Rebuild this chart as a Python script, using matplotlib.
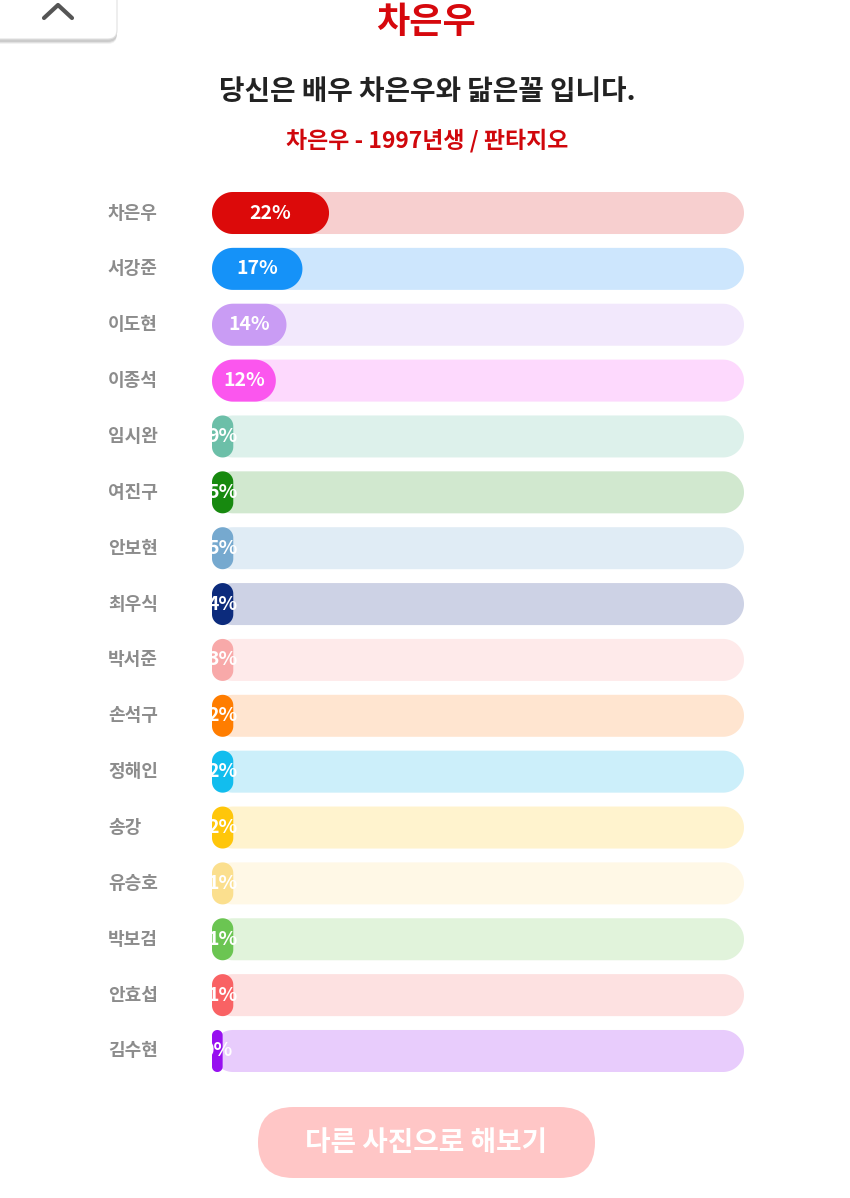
import numpy as np
import matplotlib
matplotlib.use("Agg")
import matplotlib.pyplot as plt
from matplotlib.patches import Polygon, FancyBboxPatch
from matplotlib import transforms

plt.rcParams['font.family'] = ['Noto Sans CJK KR', 'DejaVu Sans']

# data
names = ['차은우', '서강준', '이도현', '이종석', '임시완', '여진구', '안보현', '최우식',
         '박서준', '손석구', '정해인', '송강', '유승호', '박보검', '안효섭', '김수현']
percent = [22, 17, 14, 12, 9, 5, 5, 4, 3, 2, 2, 2, 1, 1, 1, 0]
shown_fill = [22, 17, 14, 12, 4, 4, 4, 4, 4, 4, 4, 4, 4, 4, 4, 2]  # bar length as drawn
fill_colors = ['#DC0A0A', '#1592F8', '#C99CF4', '#FB56EE', '#6CBFA8', '#17890F',
               '#76A9CF', '#0C2B7C', '#F8A9A9', '#FF7D00', '#12BDEE', '#FFC60A',
               '#FBDF8E', '#6BC552', '#F96264', '#9710F0']
track_colors = ['#F7CFCF', '#CDE6FD', '#F2E8FC', '#FDD9FD', '#DDF1EB', '#D1E8CF',
                '#E0ECF5', '#CDD2E5', '#FEEAEA', '#FFE5D0', '#CCEFFA', '#FFF3CE',
                '#FFF8E6', '#E1F3DB', '#FDE1E1', '#E8CCFC']

title = '차은우'
subtitle = '당신은 배우 차은우와 닮은꼴 입니다.'
info = '차은우 - 1997년생 / 판타지오'
button_text = '다른 사진으로 해보기'

W, H = 850, 1198
fig = plt.figure(figsize=(W / 100, H / 100), dpi=100)
fig.patch.set_facecolor('white')

# background layer in pixel coordinates for the page decoration
bg = fig.add_axes([0, 0, 1, 1])
bg.set_xlim(0, W)
bg.set_ylim(H, 0)
bg.axis('off')

# top-left "back to top" tab with a soft shadow
for off, a in [(4, 0.05), (3, 0.07), (2, 0.09)]:
    bg.add_patch(FancyBboxPatch((-20, -20 + off), 137, 60, boxstyle='round,pad=0,rounding_size=9',
                                fc='black', ec='none', alpha=a))
bg.add_patch(FancyBboxPatch((-20, -20), 137, 59, boxstyle='round,pad=0,rounding_size=9',
                            fc='white', ec='#e2e2e2', lw=0.8))
bg.plot([44, 58, 72], [18, 5, 18], color='#555555', lw=3, solid_capstyle='round')

bg.text(W / 2 + 1, 22, title, ha='center', va='center', fontsize=26, fontweight='bold', color='#D6080D')
bg.text(W / 2 + 2, 92, subtitle, ha='center', va='center', fontsize=20, fontweight='bold', color='#222222')
bg.text(W / 2 + 2, 141, info, ha='center', va='center', fontsize=16.5, fontweight='bold', color='#D0070C')

# bottom button
bg.add_patch(FancyBboxPatch((258, 1107), 337, 71, boxstyle='round,pad=0,rounding_size=35.5',
                            fc='#FFC6C6', ec='none'))
bg.text(426, 1143, button_text, ha='center', va='center', fontsize=20, fontweight='bold', color='white')

# bar area
x0_px, x1_px = 212, 744
row_top, row_bot = 185.07, 1078.93
ax = fig.add_axes([x0_px / W, 1 - row_bot / H, (x1_px - x0_px) / W, (row_bot - row_top) / H])
ax.set_xlim(0, 100)
ax.set_ylim(len(names) - 0.5, -0.5)
ax.axis('off')

sx = (x1_px - x0_px) / 100.0            # pixels per x unit
sy = (row_bot - row_top) / len(names)   # pixels per row
bar_h = 42


def pill(x0, x1, yc, color):
    w_px = (x1 - x0) * sx
    r = min(w_px, bar_h) / 2
    rx, ry, hy = r / sx, r / sy, bar_h / 2 / sy
    verts = []
    for cx, cy, a, b in [(x1 - rx, yc - hy + ry, -90, 0), (x1 - rx, yc + hy - ry, 0, 90),
                         (x0 + rx, yc + hy - ry, 90, 180), (x0 + rx, yc - hy + ry, 180, 270)]:
        t = np.radians(np.linspace(a, b, 24))
        verts += list(zip(cx + rx * np.cos(t), cy + ry * np.sin(t)))
    ax.add_patch(Polygon(verts, closed=True, fc=color, ec='none'))


label_tr = transforms.blended_transform_factory(fig.transFigure, ax.transData)
for i, name in enumerate(names):
    pill(0, 100, i, track_colors[i])
    pill(0, shown_fill[i], i, fill_colors[i])
    ax.text(shown_fill[i] / 2, i, f'{percent[i]}%', ha='center', va='center',
            fontsize=14, fontweight='bold', color='white', clip_on=True)
    ax.text(108 / W, i, name, transform=label_tr, ha='left', va='center',
            fontsize=13, fontweight='bold', color='#8C8C8C')

fig.savefig('out.png', dpi=100, facecolor='white')
